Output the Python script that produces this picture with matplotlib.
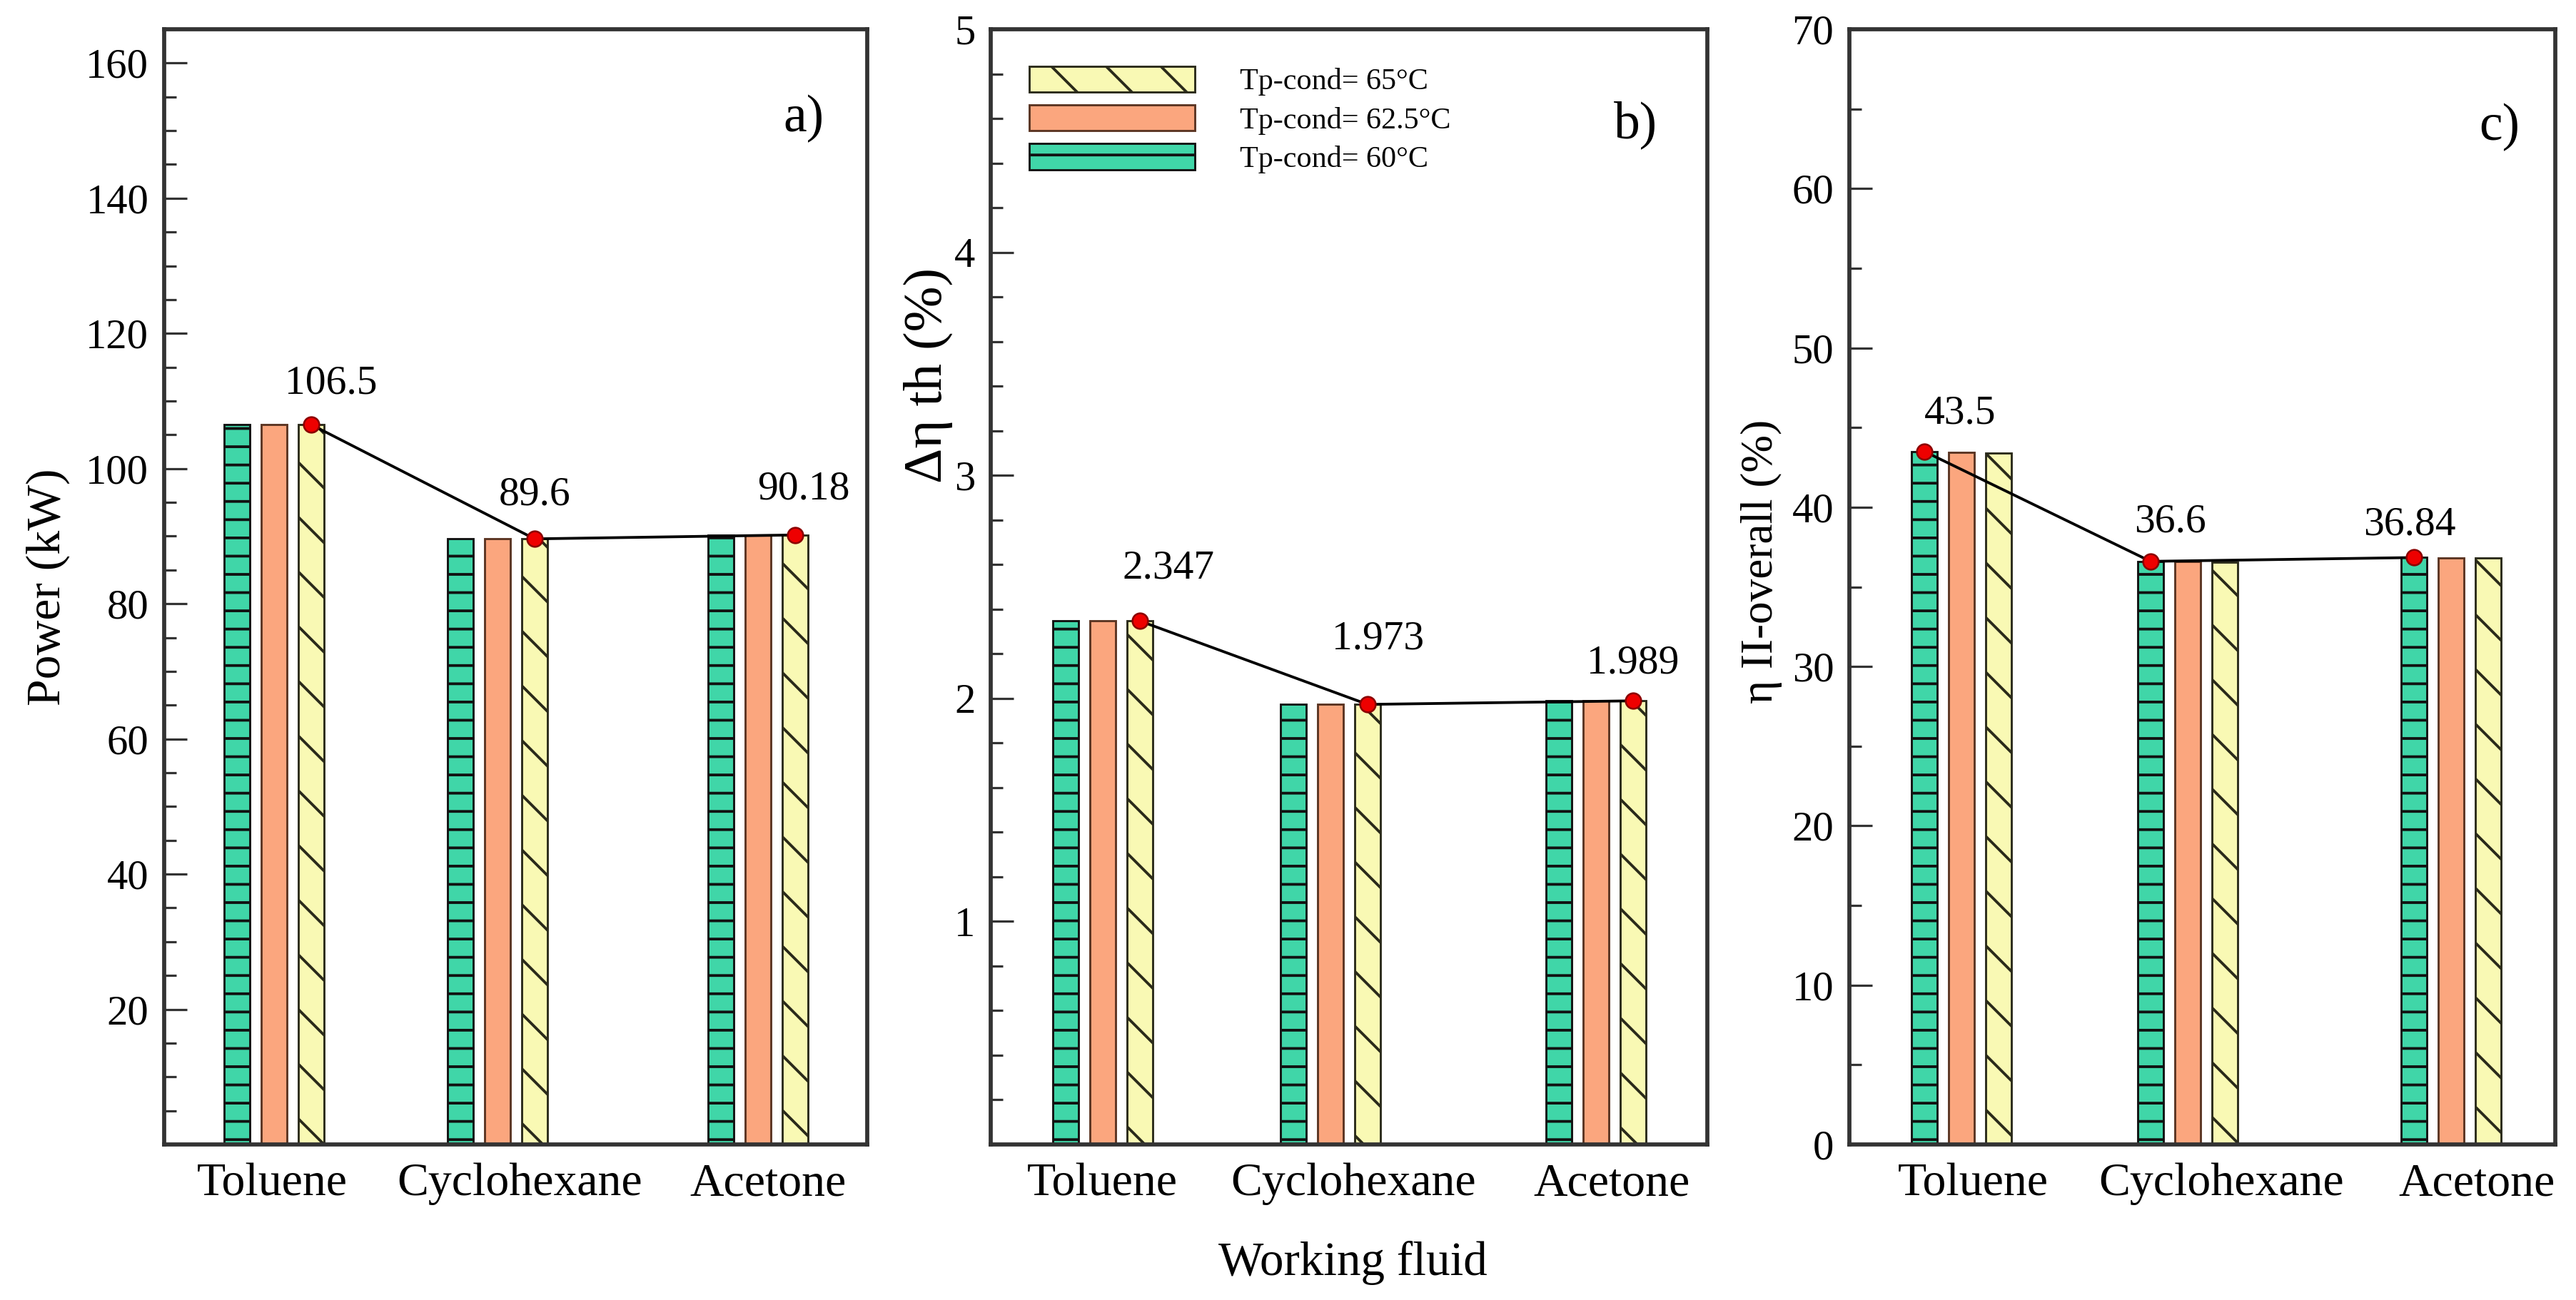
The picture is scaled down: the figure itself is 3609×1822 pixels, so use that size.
import matplotlib
matplotlib.use('Agg')
import matplotlib.pyplot as plt
from matplotlib.ticker import FixedLocator, MultipleLocator
from matplotlib.patches import Patch

# ---------------- data ----------------
fluids = ['Toluene', 'Cyclohexane', 'Acetone']
cond_labels = ['Tp-cond= 60°C', 'Tp-cond= 62.5°C', 'Tp-cond= 65°C']

power_60 = [106.5, 89.6, 90.18]
power_625 = [106.5, 89.6, 90.18]
power_65 = [106.5, 89.6, 90.18]
power_marked = [106.5, 89.6, 90.18]
power_text = ['106.5', '89.6', '90.18']

deta_60 = [2.347, 1.973, 1.989]
deta_625 = [2.347, 1.973, 1.989]
deta_65 = [2.347, 1.973, 1.989]
deta_marked = [2.347, 1.973, 1.989]
deta_text = ['2.347', '1.973', '1.989']

eta2_60 = [43.5, 36.6, 36.84]
eta2_625 = [43.45, 36.58, 36.82]
eta2_65 = [43.4, 36.56, 36.8]
eta2_marked = [43.5, 36.6, 36.84]
eta2_text = ['43.5', '36.6', '36.84']

a_ticks = [20, 40, 60, 80, 100, 120, 140, 160]
b_ticks = [1, 2, 3, 4, 5]
c_ticks = [0, 10, 20, 30, 40, 50, 60, 70]

# ---------------- style / layout ----------------
DPI = 460
W, H = 3609, 1822
plt.rcParams['font.family'] = ['Liberation Serif', 'DejaVu Serif']
plt.rcParams['hatch.linewidth'] = 0.6

teal, orange, yellow = '#40D6A8', '#FBA67E', '#F9F9B4'
edge_teal, edge_orange, edge_yellow = '#111111', '#5a3422', '#2a2a1a'
spine_col = '#333333'

fig = plt.figure(figsize=(W / DPI, H / DPI), dpi=DPI)

top_px, bot_px = 41, 1604
panels_px = [(230, 1215), (1388, 2392), (2591, 3580)]
# group centres and tick-label centres in figure pixels
group_px = [[384, 697, 1062], [1545, 1864, 2236], [2748, 3065, 3434]]
label_px = [[381, 728, 1076], [1544, 1896, 2258], [2764, 3112, 3470]]
bar_w = 35.5
bar_step = 52.0


def make_ax(l, r):
    return fig.add_axes([l / W, 1 - bot_px / H, (r - l) / W, (bot_px - top_px) / H])


axes = [make_ax(l, r) for l, r in panels_px]

series = [
    (power_60, power_625, power_65, power_marked, power_text, 2),
    (deta_60, deta_625, deta_65, deta_marked, deta_text, 2),
    (eta2_60, eta2_625, eta2_65, eta2_marked, eta2_text, 0),
]
ylims = [(0, 165), (0, 5), (0, 70)]
majors = [a_ticks, b_ticks, c_ticks]
minors = [5, 0.2, 5]
ylabels = ['Power (kW)', 'Δη th (%)', 'η II-overall (%)']
ylabel_size = [10.6, 12, 9.9]
ylabel_pos = [(-0.134, 0.5), (-0.053, 0.69), (-0.095, 0.523)]
panel_tags = ['a)', 'b)', 'c)']
tag_pos = [(0.91, 0.92), (0.90, 0.914), (0.921, 0.912)]
text_offsets = [
    [(4.3, 9.0), (0.0, 9.7), (1.8, 10.0)],
    [(6.3, 11.6), (2.3, 14.4), (0.0, 8.3)],
    [(7.9, 8.3), (4.3, 8.6), (-1.0, 7.2)],
]

for k, ax in enumerate(axes):
    l, r = panels_px[k]
    v60, v625, v65, marked, texts, mi = series[k]
    offs = [-bar_step, 0.0, bar_step]
    gx = group_px[k]
    xs0 = [g + offs[0] for g in gx]
    xs1 = [g + offs[1] for g in gx]
    xs2 = [g + offs[2] for g in gx]
    ax.bar(xs0, v60, width=bar_w, color=teal, edgecolor=edge_teal,
           linewidth=0.45, hatch='---', zorder=2)
    ax.bar(xs1, v625, width=bar_w, color=orange, edgecolor=edge_orange,
           linewidth=0.45, zorder=2)
    ax.bar(xs2, v65, width=bar_w, color=yellow, edgecolor=edge_yellow,
           linewidth=0.45, hatch='\\\\', zorder=2)

    mx = [g + offs[mi] for g in gx]
    ax.plot(mx, marked, '-', color='black', lw=0.6, zorder=5,
            marker='o', ms=3.4, mfc='#ee0000', mec='#8b0000', mew=0.4)
    for j in range(3):
        ax.annotate(texts[j], (mx[j], marked[j]), xytext=text_offsets[k][j],
                    textcoords='offset points', ha='center', va='center',
                    fontsize=9, zorder=6)

    ax.set_xlim(l, r)
    ax.set_ylim(*ylims[k])
    ax.yaxis.set_major_locator(FixedLocator(majors[k]))
    ax.yaxis.set_minor_locator(MultipleLocator(minors[k]))
    ax.set_xticks(label_px[k])
    ax.set_xticklabels(fluids, fontsize=10.3)
    ax.tick_params(axis='x', length=0, pad=4)
    ax.tick_params(axis='y', which='major', direction='in', length=5,
                   width=0.5, labelsize=9.2, pad=3.4, color=spine_col)
    ax.tick_params(axis='y', which='minor', direction='in', length=2.7,
                   width=0.5, color=spine_col)
    for s in ax.spines.values():
        s.set_linewidth(0.9)
        s.set_color(spine_col)
    ax.set_ylabel(ylabels[k], fontsize=ylabel_size[k])
    ax.yaxis.set_label_coords(*ylabel_pos[k])
    ax.text(tag_pos[k][0], tag_pos[k][1], panel_tags[k], transform=ax.transAxes,
            ha='center', va='center', fontsize=11.5)

# legend in panel b
handles = [
    Patch(facecolor=yellow, edgecolor=edge_yellow, hatch='\\\\', linewidth=0.45),
    Patch(facecolor=orange, edgecolor=edge_orange, linewidth=0.45),
    Patch(facecolor=teal, edgecolor=edge_teal, hatch='---', linewidth=0.45),
]
leg_x = (1442 - panels_px[1][0]) / (panels_px[1][1] - panels_px[1][0])
axes[1].legend(handles, [cond_labels[2], cond_labels[1], cond_labels[0]],
               loc='upper left', bbox_to_anchor=(leg_x, 0.967), frameon=False,
               fontsize=6.6, handlelength=5.5, handleheight=0.95,
               labelspacing=0.3, handletextpad=1.5, borderpad=0,
               borderaxespad=0)

fig.text(1895 / W, 1 - 1770 / H, 'Working fluid', ha='center', va='center',
         fontsize=10.5)

fig.savefig('out.png', dpi=DPI, facecolor='white')
